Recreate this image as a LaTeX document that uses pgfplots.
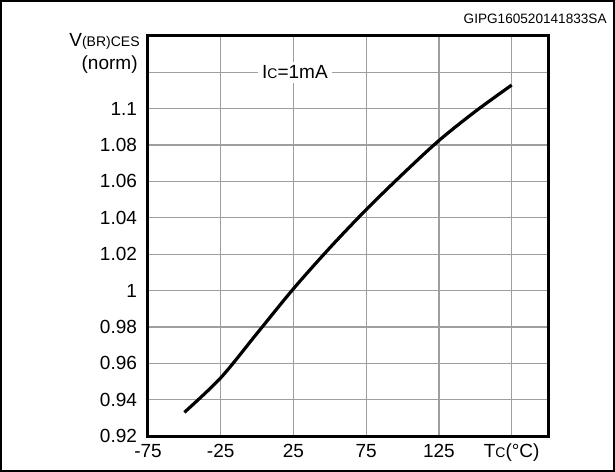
\documentclass[border=0pt]{standalone}
\usepackage{pgfplots}
\pgfplotsset{compat=1.18}
\usepackage{fontspec}
\setmainfont{Liberation Sans}
\begin{document}
\begin{tikzpicture}
\begin{axis}[
  at={(0pt,0pt)}, anchor=south west,
  scale only axis, width=200pt, height=200pt,
  xmin=-75, xmax=200, ymin=0.92, ymax=1.14,
  xtick={-75,-25,25,75,125,175},
  xticklabels={-75,-25,25,75,125,{T{\fontsize{7}{8}\selectfont C}(°C)}},
  ytick={0.92,0.94,0.96,0.98,1,1.02,1.04,1.06,1.08,1.1,1.12},
  yticklabels={0.92,0.94,0.96,0.98,1,1.02,1.04,1.06,1.08,1.1,{}},
  major tick length=0pt,
  tick label style={font=\fontsize{9.5}{10}\selectfont},
  xticklabel style={yshift=-0.5pt},
  yticklabel style={xshift=-2pt},
  grid=major,
  major grid style={color=black!38, line width=0.6pt},
  axis line style={line width=1.5pt},
  clip=false,
]
\addplot[black, line width=1.6pt, smooth, tension=0.5] coordinates {
(-50,0.933) (-25,0.952) (0,0.9765) (25,1.001) (50,1.0235) (75,1.0445) (100,1.064) (125,1.0825) (150,1.0985) (175,1.113)
};
\node[fill=white, inner sep=2pt, font=\fontsize{9.5}{10}\selectfont] at (axis cs:26,1.12) {I{\fontsize{7}{8}\selectfont C}=1mA};
\end{axis}
\node[anchor=east, inner sep=0pt, font=\fontsize{9.5}{10}\selectfont] at (-4pt,197.5pt) {V{\fontsize{7}{8}\selectfont (BR)CES}};
\node[anchor=east, inner sep=0pt, font=\fontsize{9.5}{10}\selectfont] at (-5pt,185.5pt) {(norm)};
\node[anchor=east, inner sep=0pt, font=\fontsize{6.8}{7}\selectfont] at (229.5pt,208.5pt) {GIPG160520141833SA};
\draw[line width=1pt] (-73.5pt,-17.25pt) rectangle (233pt,217.5pt);
\end{tikzpicture}
\end{document}
